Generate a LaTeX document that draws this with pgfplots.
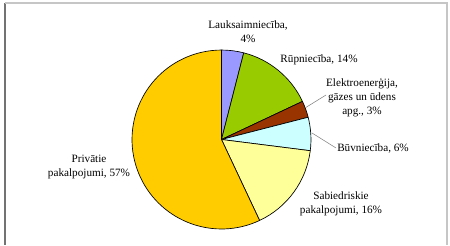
\documentclass[border=0pt]{standalone}
\usepackage{pgfplots}
\pgfplotsset{compat=1.18}
\usepackage{fontspec}
\setmainfont{Liberation Serif}
\definecolor{cLauk}{HTML}{9999FF}
\definecolor{cRup}{HTML}{99CC00}
\definecolor{cElek}{HTML}{993300}
\definecolor{cBuv}{HTML}{CCFFFF}
\definecolor{cSab}{HTML}{FFFF99}
\definecolor{cPriv}{HTML}{FFCC00}
% slice: cumulative share before, share, colour
\newcommand{\slice}[3]{%
  \filldraw[fill=#3,draw=black,line width=0.5pt,line join=round]
    (axis cs:221.5,139.5) -- ++({90-3.6*(#1)}:67.1pt)
    arc[start angle={90-3.6*(#1)}, end angle={90-3.6*(#1+#2)}, radius=67.1pt] -- cycle;}
\begin{document}
\begin{tikzpicture}
\begin{axis}[
  width=337.5pt, height=183.75pt, scale only axis,
  xmin=0, xmax=450, ymin=0, ymax=245, y dir=reverse,
  hide axis, clip=false,
  nodes={font=\fontsize{8.4}{10.6}\selectfont, align=center, inner sep=0pt},
]
\path[draw=none] (axis cs:0,0) rectangle (axis cs:450,245);
% frame
\draw[gray!90!black, line width=1.2pt] (axis cs:5,3) -- (axis cs:5,245);
\draw[gray!45, line width=0.8pt] (axis cs:5,3) -- (axis cs:447,3) -- (axis cs:447,245);
% slices (values in %)
\slice{0}{4}{cLauk}
\slice{4}{14}{cRup}
\slice{18}{3}{cElek}
\slice{21}{6}{cBuv}
\slice{27}{16}{cSab}
\slice{43}{57}{cPriv}
% leader lines
\draw[gray, line width=0.4pt] (axis cs:305,108) -- (axis cs:326,95);
\draw[gray, line width=0.4pt] (axis cs:312,133) -- (axis cs:336,148);
% labels
\node at (axis cs:248,32) {Lauksaimniecība,\\4\%};
\node at (axis cs:319,60) {Rūpniecība, 14\%};
\node at (axis cs:362,97.5) {Elektroenerģija,\\gāzes un ūdens\\apg., 3\%};
\node[anchor=west] at (axis cs:337,148) {Būvniecība, 6\%};
\node at (axis cs:341,203.5) {Sabiedriskie\\pakalpojumi, 16\%};
\node at (axis cs:89,167) {Privātie\\pakalpojumi, 57\%};
\end{axis}
\end{tikzpicture}
\end{document}
